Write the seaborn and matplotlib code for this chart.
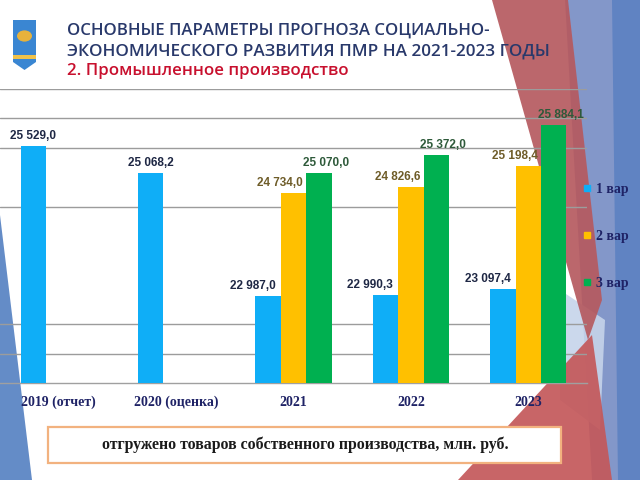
import numpy as np
import pandas as pd
import matplotlib
matplotlib.use("Agg")
import matplotlib.pyplot as plt
import seaborn as sns
from matplotlib.patches import Polygon, Rectangle, Circle
from matplotlib.lines import Line2D

# ---------------- data ----------------
categories = ["2019 (отчет)", "2020 (оценка)", "2021", "2022", "2023"]
series_names = ["1 вар", "2 вар", "3 вар"]
var1 = [25529.0, 25068.2, 22987.0, 22990.3, 23097.4]
var2 = [np.nan, np.nan, 24734.0, 24826.6, 25198.4]
var3 = [np.nan, np.nan, 25070.0, 25372.0, 25884.1]
grid_values = [22000, 22500, 24500, 25500, 26000, 26500]
y_min, y_max = 21500, 26500

title_line1 = "ОСНОВНЫЕ ПАРАМЕТРЫ ПРОГНОЗА СОЦИАЛЬНО-"
title_line2 = "ЭКОНОМИЧЕСКОГО РАЗВИТИЯ ПМР НА 2021-2023 ГОДЫ"
subtitle = "2. Промышленное производство"
caption = "отгружено товаров собственного производства, млн. руб."

bar_colors = ["#0FAEF7", "#FFC000", "#00B050"]
label_colors = ["#1E2744", "#6E5C28", "#2E5A3A"]

df = pd.DataFrame({
    "Год": categories * 3,
    "Вариант": [s for s in series_names for _ in categories],
    "Значение": var1 + var2 + var3,
})

sns.set_theme(style="white")
plt.rcParams["font.family"] = ["DejaVu Sans"]

W, H = 640, 480
fig = plt.figure(figsize=(6.4, 4.8), dpi=100)
fig.patch.set_facecolor("white")


def P(x, y):
    return (x / W, 1 - y / H)


def poly(pts, color, alpha=1.0, z=0):
    fig.patches.append(Polygon([P(*p) for p in pts], closed=True,
                               transform=fig.transFigure, facecolor=color,
                               edgecolor="none", alpha=alpha, zorder=z))

# background theme decoration
poly([(0, 215), (32, 480), (0, 480)], "#5C86C4", 0.95)
poly([(565, 0), (640, 0), (640, 480), (592, 480)], "#7C92C6", 0.95)
poly([(612, 0), (640, 0), (640, 480), (618, 480)], "#5E82C2", 0.95)
poly([(560, 290), (605, 320), (600, 430), (560, 400)], "#C6D4EA", 0.9)
poly([(492, 0), (568, 0), (602, 300), (588, 340)], "#B65A5F", 0.92)
poly([(458, 480), (592, 335), (612, 480)], "#C4585A", 0.92)

# emblem (simple shield)
poly([(13, 20), (36, 20), (36, 62), (24.5, 70), (13, 62)], "#3A86D2", 1, 1)
poly([(13, 55), (36, 55), (36, 58.5), (13, 58.5)], "#F0C24A", 1, 2)
fig.patches.append(Circle(P(24.5, 36), 7.5 / W, transform=fig.transFigure,
                          facecolor="#E7B23C", edgecolor="none", zorder=2))

# header texts
hdr_font = ["Open Sans", "Noto Sans", "DejaVu Sans"]
t1 = fig.text(67 / W, 1 - 31 / H, title_line1, color="#29396B", fontsize=12.5,
              family=hdr_font, va="center", ha="left", fontweight="semibold")
t2 = fig.text(67 / W, 1 - 52 / H, title_line2, color="#29396B", fontsize=12.5,
              family=hdr_font, va="center", ha="left", fontweight="semibold")
t3 = fig.text(67 / W, 1 - 71 / H, subtitle, color="#C8102E", fontsize=11.5,
              family=hdr_font, va="center", ha="left", fontweight="semibold")

# ---------------- chart ----------------
ax = fig.add_axes([0, 1 - 383 / H, 587 / W, (383 - 89) / H])
ax.set_facecolor("none")
ax.set_zorder(2)
sns.barplot(data=df, x="Год", y="Значение", hue="Вариант",
            hue_order=series_names, order=categories,
            palette=bar_colors, saturation=1, width=0.65, dodge=True,
            errorbar=None, legend=False, ax=ax, zorder=3,
            edgecolor="none", linewidth=0)

ax.set_ylim(y_min, y_max)
ax.set_xlim(-0.5, len(categories) - 0.5)
ax.set_yticks(grid_values)
ax.set_yticklabels([])
ax.tick_params(axis="y", length=0)
ax.yaxis.grid(True, color="#9C9C9C", linewidth=1)
ax.set_axisbelow(True)
for s in ["left", "right", "top"]:
    ax.spines[s].set_visible(False)
ax.spines["bottom"].set_color("#A0A0A0")
ax.spines["bottom"].set_linewidth(1)
ax.set_xlabel("")
ax.set_ylabel("")
ax.set_xticks(range(len(categories)))
ax.set_xticklabels(categories, family=["Liberation Serif"], fontweight="bold",
                   fontsize=10, color="#1F2366")
ax.tick_params(axis="x", which="major", length=0, pad=9)
ax.set_xticks(np.arange(0.5, len(categories), 1), minor=True)
ax.tick_params(axis="x", which="minor", length=5, color="#A0A0A0", width=1,
               direction="out")


def fmt(v):
    s = f"{v:,.1f}".replace(",", " ").replace(".", ",")
    return s

# value labels
x_shift = [-5, -3, 7]
for i, cont in enumerate(ax.containers):
    for bar in cont:
        h = bar.get_height()
        if np.isnan(h) or h == 0:
            continue
        xc = bar.get_x() + bar.get_width() / 2
        cat = int(round(xc))
        if i == 0 and np.isnan(var2[cat]):
            xy, ha, dx = (xc, h), "center", 0
        elif i in (0, 1):
            xy, ha, dx = (bar.get_x() + bar.get_width(), h), "right", x_shift[i]
        else:
            xy, ha, dx = (xc, h), "center", x_shift[i]
        ax.annotate(fmt(h), xy=xy, xytext=(dx, 4), textcoords="offset pixels",
                    ha=ha, va="bottom", fontsize=8.5, fontweight="bold",
                    family=["Liberation Sans"], color=label_colors[i],
                    zorder=5)

# legend
handles = [Line2D([], [], marker="s", linestyle="none", markersize=4.5,
                  markerfacecolor=c, markeredgecolor=c) for c in bar_colors]
leg = fig.legend(handles, series_names, loc="upper left",
                 bbox_to_anchor=(583 / W, 1 - 183 / H),
                 bbox_transform=fig.transFigure, frameon=False,
                 handlelength=0.6, handletextpad=0.3, labelspacing=2.45,
                 borderpad=0, borderaxespad=0,
                 prop={"family": "Liberation Serif", "weight": "bold",
                       "size": 10})
for t in leg.get_texts():
    t.set_color("#1F2366")

# caption box
fig.patches.append(Rectangle(P(48, 463), (561 - 48) / W, (463 - 427) / H,
                             transform=fig.transFigure, facecolor="white",
                             edgecolor="#F2B27F", linewidth=1.6, zorder=3))
tc = fig.text(305 / W, 1 - 445 / H, caption, ha="center", va="center",
              family=["Liberation Serif"], fontweight="bold", fontsize=11.5,
              color="#1A1A1A", zorder=4)

# fit header/caption widths to the reference
fig.canvas.draw()
r = fig.canvas.get_renderer()
for t, target in [(t1, 421), (t2, 482), (t3, 282), (tc, 410)]:
    w = t.get_window_extent(r).width
    t.set_fontsize(t.get_fontsize() * target / w)

fig.savefig("out.png", dpi=100)
